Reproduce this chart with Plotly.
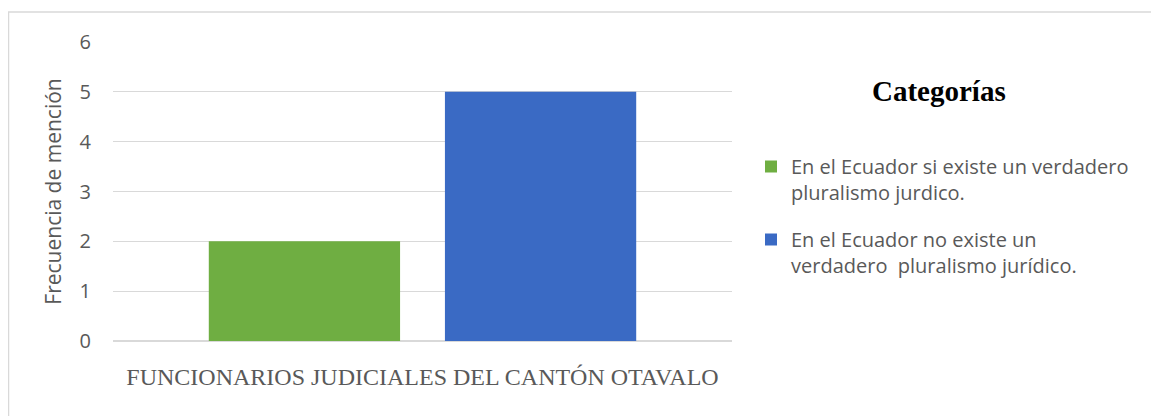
import plotly.graph_objects as go

category = ["FUNCIONARIOS JUDICIALES DEL CANTÓN OTAVALO"]
series_names = [
    "En el Ecuador si existe un verdadero<br>pluralismo jurdico.",
    "En el Ecuador no existe un<br>verdadero  pluralismo jurídico.",
]
series_values = [[2], [5]]
y_ticks = [0, 1, 2, 3, 4, 5, 6]

colors = ["#6FAE42", "#3A6AC4"]

# the page body adds an 8px margin, so the figure is laid out 8px smaller
OFF = 8
W, H = 1159 - OFF, 416 - OFF
L, T = 113 - OFF, 42 - OFF
plot_w, plot_h = 619, 299
R = W - L - plot_w
B = H - T - plot_h


def px_x(px):
    # page pixel -> paper x
    return (px - OFF - L) / plot_w


def px_y(py):
    # page pixel -> paper y
    return (H - B - (py - OFF)) / plot_h


fig = go.Figure()

for i, (name, vals, col) in enumerate(zip(series_names, series_values, colors)):
    fig.add_trace(
        go.Bar(
            x=category,
            y=vals,
            name=name,
            legendgroup=f"g{i}",
            marker=dict(color=col, line=dict(width=0)),
        )
    )

fig.update_layout(
    width=W,
    height=H,
    margin=dict(l=L, r=R, t=T, b=B),
    paper_bgcolor="white",
    plot_bgcolor="white",
    barmode="group",
    bargap=0.237,
    bargroupgap=0.19,
    showlegend=True,
    legend=dict(
        x=px_x(751),
        y=px_y(147),
        xanchor="left",
        yanchor="top",
        valign="top",
        font=dict(family="Open Sans", size=20, color="#595959"),
        tracegroupgap=18,
        itemwidth=30,
        bgcolor="rgba(0,0,0,0)",
    ),
    font=dict(family="Open Sans", color="#595959"),
)

fig.update_yaxes(
    range=[0, 6],
    tickvals=y_ticks,
    showgrid=True,
    gridcolor="#D9D9D9",
    gridwidth=1,
    zeroline=True,
    zerolinecolor="#D9D9D9",
    showline=False,
    ticks="",
    ticklabelstandoff=21,
    tickfont=dict(family="Open Sans", size=20, color="#595959"),
    title=dict(
        text="Frecuencia de mención",
        font=dict(family="Open Sans", size=21, color="#595959"),
        standoff=12,
    ),
)

fig.update_xaxes(
    showgrid=False,
    showline=False,
    ticks="",
    ticklabelstandoff=19,
    tickfont=dict(family="Liberation Serif", size=24, color="#595959"),
)

# legend heading
fig.add_annotation(
    text="<b>Categorías</b>",
    x=px_x(939),
    y=px_y(91),
    xref="paper",
    yref="paper",
    xanchor="center",
    yanchor="middle",
    showarrow=False,
    font=dict(family="Liberation Serif", size=29, color="black"),
)

# outer chart border (right and bottom edges fall outside the picture)
fig.add_shape(
    type="rect",
    xref="paper",
    yref="paper",
    x0=px_x(8.5),
    x1=px_x(1175),
    y0=px_y(440),
    y1=px_y(12),
    line=dict(color="#D9D9D9", width=1.5),
    layer="below",
)

fig.write_html("out.html")
